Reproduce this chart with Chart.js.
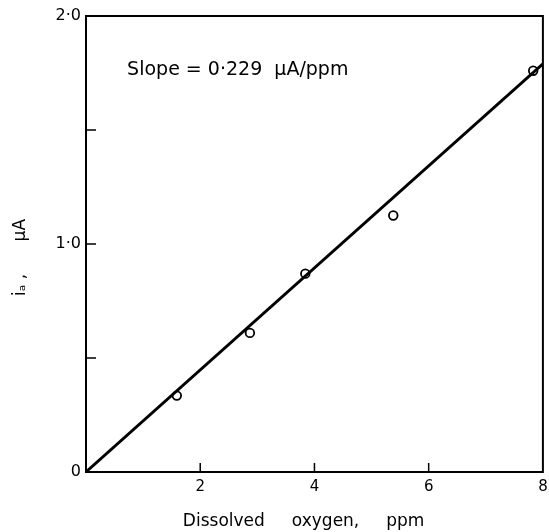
<!DOCTYPE html>
<html>
<head>
<meta charset="utf-8">
<script src="https://cdn.jsdelivr.net/npm/chart.js@4"></script>
<style>
  html, body { margin: 0; padding: 0; background: #fff; }
  #wrap { width: 549px; height: 532px; }
</style>
</head>
<body>
<div id="wrap"><canvas id="chart" width="549" height="532"></canvas></div>
<script>
// Data
const oxygen = [1.59, 2.87, 3.84, 5.38, 7.83];      // ppm
const current = [0.335, 0.61, 0.87, 1.125, 1.76];    // µA
const fitX = [0, 8];
const fitY = [0, 1.79];
const xTicks = [0, 2, 4, 6, 8];
const yTicks = [0, 0.5, 1.0, 1.5, 2.0];
const yLabels = { 0: '0', 1: '1·0', 2: '2·0' };
const slopeText = 'Slope = 0·229  μA/ppm';

const FONT = '"DejaVu Sans", "Liberation Sans", Arial, sans-serif';

// frame, inside tick marks and the slope note
const framePlugin = {
    id: 'frame',
    afterDatasetsDraw(chart) {
        const { ctx, chartArea: a, scales } = chart;
        ctx.save();
        ctx.strokeStyle = '#000';
        ctx.lineWidth = 2;
        ctx.strokeRect(a.left, a.top, a.right - a.left, a.bottom - a.top);

        ctx.lineWidth = 1.5;
        ctx.beginPath();
        xTicks.slice(1, -1).forEach(v => {
            const px = scales.x.getPixelForValue(v);
            ctx.moveTo(px, a.bottom);
            ctx.lineTo(px, a.bottom - 9);
        });
        yTicks.slice(1, -1).forEach(v => {
            const py = scales.y.getPixelForValue(v);
            ctx.moveTo(a.left, py);
            ctx.lineTo(a.left + 10, py);
        });
        ctx.stroke();

        ctx.fillStyle = '#000';
        ctx.font = '19px ' + FONT;
        ctx.textBaseline = 'middle';
        ctx.fillText(slopeText, scales.x.getPixelForValue(0.72), scales.y.getPixelForValue(1.765));
        ctx.restore();
    }
};

new Chart(document.getElementById('chart'), {
    type: 'scatter',
    data: {
        datasets: [{
            type: 'line',
            data: fitX.map((x, i) => ({ x, y: fitY[i] })),
            borderColor: '#000',
            borderWidth: 2.8,
            pointRadius: 0,
            fill: false
        }, {
            data: oxygen.map((x, i) => ({ x, y: current[i] })),
            backgroundColor: '#fff',
            borderColor: '#000',
            borderWidth: 1.8,
            pointRadius: 4.3
        }]
    },
    plugins: [framePlugin],
    options: {
        responsive: false,
        animation: false,
        layout: { padding: { top: 16, right: 5, left: 0, bottom: 0 } },
        plugins: { legend: { display: false }, tooltip: { enabled: false } },
        scales: {
            x: {
                type: 'linear', min: 0, max: 8,
                afterFit: s => { s.height = 60; s.paddingRight = 0; s.paddingLeft = 0; },
                afterBuildTicks: s => { s.ticks = xTicks.map(v => ({ value: v })); },
                grid: { display: false, drawTicks: false },
                border: { display: false },
                ticks: {
                    color: '#000', font: { family: FONT, size: 15 }, padding: 6,
                    callback: v => (v === 0 ? '' : String(v))
                },
                title: {
                    display: true, text: 'Dissolved     oxygen,     ppm    ', color: '#000',
                    font: { family: FONT, size: 17 }, padding: { top: 14, bottom: 0 }
                }
            },
            y: {
                type: 'linear', min: 0, max: 2,
                afterFit: s => { s.width = 86; s.paddingTop = 0; s.paddingBottom = 0; },
                afterBuildTicks: s => { s.ticks = yTicks.map(v => ({ value: v })); },
                grid: { display: false, drawTicks: false },
                border: { display: false },
                ticks: {
                    color: '#000', font: { family: FONT, size: 16 }, padding: 5,
                    callback: v => yLabels[v] || ''
                },
                title: {
                    display: true, text: 'iₐ ,      μA     ', color: '#000',
                    font: { family: FONT, size: 17 }, padding: { top: 10, bottom: 0 }
                }
            }
        }
    }
});
</script>
</body>
</html>
